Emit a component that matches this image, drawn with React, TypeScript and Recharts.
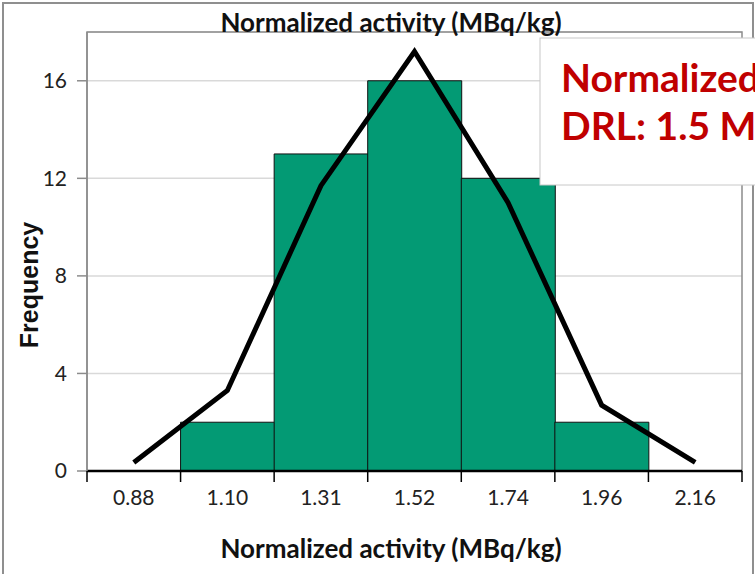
import { ComposedChart, Bar, Line, XAxis, YAxis, CartesianGrid, ReferenceArea } from "recharts";

const categories = ["0.88", "1.10", "1.31", "1.52", "1.74", "1.96", "2.16"];
const frequencies = [0, 2, 13, 16, 12, 2, 0];
const fittedCurve = [0.35, 3.3, 11.7, 17.2, 11.0, 2.7, 0.35];
const yTicks = [0, 4, 8, 12, 16];

const GREEN = "#039A74";
const RED = "#C00000";
const TITLE = "Normalized activity (MBq/kg)";

// label in the middle of the bin, tick marks on the bin edges
function BinTick({ x, y, payload, index, visibleTicksCount }: any) {
  const half = payload.offset ?? 0;
  const isLast = index === visibleTicksCount - 1;
  return (
    <g>
      <line x1={x - half} x2={x - half} y1={y} y2={y + 11} stroke="#000" strokeWidth={1.5} />
      {isLast && <line x1={x + half} x2={x + half} y1={y} y2={y + 11} stroke="#000" strokeWidth={1.5} />}
      <text x={x} y={y + 19} dy="0.71em" textAnchor="middle" fontSize={21} fill="#222">
        {payload.value}
      </text>
    </g>
  );
}

export default function App() {
  const data = categories.map((c, i) => ({
    bin: c,
    freq: frequencies[i],
    fit: fittedCurve[i],
  }));

  return (
    <div style={{ position: "absolute", left: 0, top: 0, width: 755, height: 574, background: "#fff", fontFamily: "Lato", overflow: "hidden" }}>
      <div
        style={{
          position: "absolute",
          left: 2,
          top: 2,
          width: 752,
          height: 600,
          boxSizing: "border-box",
          border: "2px solid #8f8f8f",
        }}
      />
      <div style={{ position: "absolute", left: 0, top: 0 }}>
        <ComposedChart
          width={755}
          height={574}
          data={data}
          margin={{ top: 32, right: 13, bottom: 0, left: 0 }}
          barCategoryGap={0}
          barGap={0}
        >
          <CartesianGrid vertical={false} stroke="#d9d9d9" strokeWidth={1.5} />
          <XAxis
            dataKey="bin"
            height={103}
            interval={0}
            tick={<BinTick />}
            axisLine={{ stroke: "#000", strokeWidth: 2.5 }}
            tickLine={false}
            tickSize={0}
            tickMargin={0}
          />
          <YAxis
            domain={[0, 18]}
            ticks={yTicks}
            width={87}
            tickSize={10}
            tickMargin={10}
            axisLine={{ stroke: "#8c8c8c", strokeWidth: 1.5 }}
            tickLine={{ stroke: "#8c8c8c", strokeWidth: 1.5 }}
            tick={{ fill: "#222", fontSize: 21 }}
          />
          <ReferenceArea
            x1={categories[0]}
            x2={categories[categories.length - 1]}
            y1={0}
            y2={18}
            fill="none"
            stroke="#8c8c8c"
            strokeWidth={1.5}
          />
          <Bar dataKey="freq" fill={GREEN} stroke="#111" strokeWidth={1} isAnimationActive={false} />
          <Line
            dataKey="fit"
            type="linear"
            stroke="#000"
            strokeWidth={5}
            dot={false}
            strokeLinejoin="miter"
            isAnimationActive={false}
          />
        </ComposedChart>
      </div>
      <svg width={755} height={574} style={{ position: "absolute", left: 0, top: 0 }}>
        <text x={391} y={32} textAnchor="middle" fontSize={26} fontWeight="bold" fill="#111">
          {TITLE}
        </text>
        <text x={391} y={558} textAnchor="middle" fontSize={26} fontWeight="bold" fill="#111">
          {TITLE}
        </text>
        <text
          x={0}
          y={0}
          transform="translate(38 285) rotate(-90)"
          textAnchor="middle"
          fontSize={25}
          fontWeight="bold"
          fontFamily="Liberation Sans"
          fill="#111"
        >
          Frequency
        </text>
        <rect x={540} y={38} width={240} height={147} fill="#fff" stroke="#c8c8c8" strokeWidth={1} />
        <text x={561} y={92} fontSize={39} fontWeight="bold" fill={RED}>
          Normalized activity
        </text>
        <text x={561} y={140} fontSize={39} fontWeight="bold" fill={RED}>
          DRL: 1.5 MBq/kg
        </text>
      </svg>
    </div>
  );
}
